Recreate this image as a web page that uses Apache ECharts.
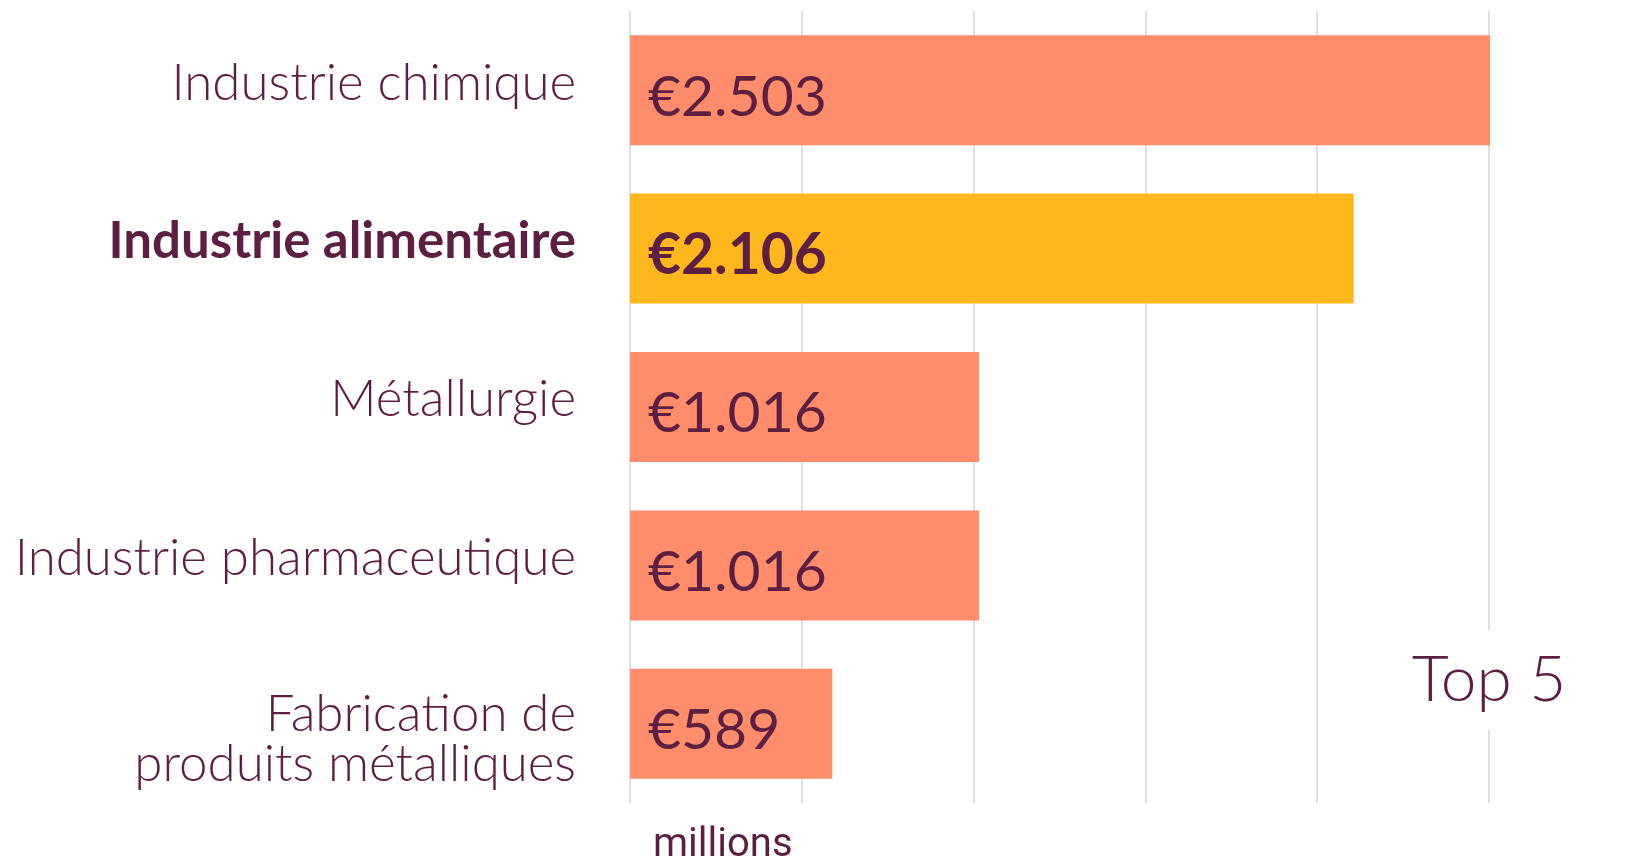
<!DOCTYPE html>
<html>
<head>
<meta charset="utf-8">
<script src="https://cdn.jsdelivr.net/npm/echarts@6/dist/echarts.min.js"></script>
<style>
  html, body { margin: 0; padding: 0; background: #ffffff; }
  #chart { width: 1652px; height: 862px; }
</style>
</head>
<body>
<div id="chart"></div>
<script>
// ---- data ----
const categories = [
  'Industrie chimique',
  'Industrie alimentaire',
  'Métallurgie',
  'Industrie pharmaceutique',
  'Fabrication de\nproduits métalliques'
];
const values = [2503, 2106, 1016, 1016, 589];
const highlighted = 'Industrie alimentaire';
const xTicks = [0, 500, 1000, 1500, 2000, 2500];
const unitLabel = 'millions';
const cornerLabel = 'Top 5';

// ---- style ----
const PURPLE = '#5c1f41';
const ORANGE = '#ff8d6c';
const YELLOW = '#feb71d';
const FONT = 'Lato, "Open Sans", sans-serif';

function fmtEuro(v) {
  return '€' + String(v).replace(/\B(?=(\d{3})+(?!\d))/g, '.');
}

const chart = echarts.init(document.getElementById('chart'), null, { renderer: 'canvas' });

const yData = categories.map(function (c) {
  const multi = c.indexOf('\n') >= 0;
  return multi ? { value: c, textStyle: { padding: [31, 0, 0, 0] } } : { value: c };
});

const option = {
  animation: false,
  backgroundColor: '#ffffff',
  grid: { left: 630, right: 163, top: 11, bottom: 59, containLabel: false },
  xAxis: {
    type: 'value',
    min: xTicks[0],
    max: xTicks[xTicks.length - 1],
    interval: xTicks[1] - xTicks[0],
    axisLine: { show: false },
    axisTick: { show: false },
    axisLabel: { show: false },
    splitLine: { show: true, lineStyle: { color: '#e2e0df', width: 2 } }
  },
  yAxis: {
    type: 'category',
    inverse: true,
    data: yData,
    axisLine: { show: false },
    axisTick: { show: false },
    splitLine: { show: false },
    axisLabel: {
      margin: 54,
      fontFamily: FONT,
      fontWeight: 300,
      fontSize: 51,
      lineHeight: 50,
      color: PURPLE,
      align: 'right',
      padding: [0, 0, 14, 0],
      formatter: function (val) {
        return val === highlighted ? '{b|' + val + '}' : val;
      },
      rich: {
        b: { fontFamily: FONT, fontWeight: 700, fontSize: 51, color: PURPLE, lineHeight: 50 }
      }
    }
  },
  series: [{
    type: 'bar',
    barWidth: 110,
    clip: false,
    data: values.map(function (v, i) {
      const hl = categories[i] === highlighted;
      return {
        value: v,
        itemStyle: { color: hl ? YELLOW : ORANGE },
        label: { fontWeight: hl ? 700 : 400 }
      };
    }),
    label: {
      show: true,
      position: 'insideLeft',
      distance: 18,
      offset: [0, 7],
      formatter: function (p) { return fmtEuro(p.value); },
      fontFamily: FONT,
      fontSize: 57,
      color: PURPLE
    }
  }]
};

chart.setOption(option);

// place the "Top 5" annotation on the last grid line via the axis scale
const px = chart.convertToPixel({ xAxisIndex: 0 }, xTicks[xTicks.length - 1]);
chart.setOption({
  graphic: [
    {
      type: 'text',
      left: 653,
      top: 826,
      style: { text: unitLabel, fontFamily: 'Roboto, sans-serif', fontWeight: 400, fontSize: 40, fill: PURPLE }
    },
    {
      type: 'text',
      x: px,
      y: 680,
      z: 100,
      style: {
        text: cornerLabel,
        fontFamily: FONT,
        fontWeight: 300,
        fontSize: 64,
        lineHeight: 64,
        fill: PURPLE,
        align: 'center',
        verticalAlign: 'middle',
        backgroundColor: '#ffffff',
        padding: [18, 8, 18, 8]
      }
    }
  ]
});
</script>
</body>
</html>
